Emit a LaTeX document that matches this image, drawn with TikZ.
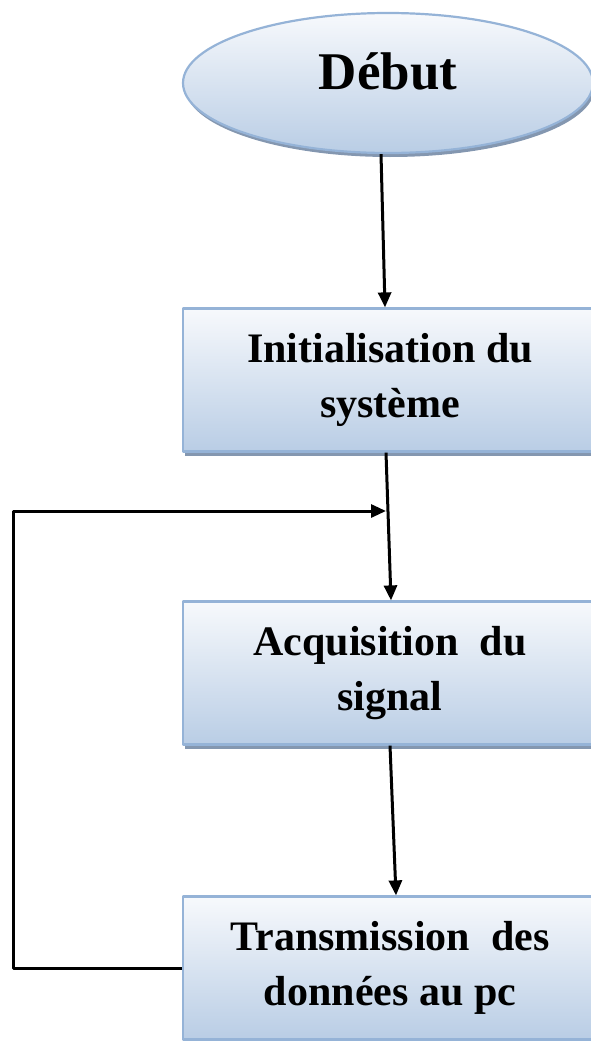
\documentclass[tikz,border=0pt]{standalone}
\usepackage{fontspec}
\setmainfont{Liberation Serif}
\usetikzlibrary{shapes.geometric,arrows.meta,shadows}
\definecolor{bordbleu}{HTML}{95B3D7}
\definecolor{hautbleu}{HTML}{F7F9FC}
\definecolor{basbleu}{HTML}{B9CDE5}
\definecolor{ombrebleu}{HTML}{8497B0}
\begin{document}
\begin{tikzpicture}[x=1pt, y=-1pt, line join=round, >={Triangle[length=15pt,width=13pt]},
	etape/.style={draw=bordbleu, line width=2.2pt, top color=hautbleu, bottom color=basbleu,
		drop shadow={shadow xshift=2pt, shadow yshift=-4pt, fill=ombrebleu, opacity=1},
		minimum width=414pt, minimum height=143pt, inner sep=0pt, align=center,
		font=\bfseries\fontsize{42}{55}\selectfont},
	fleche/.style={->, line width=3pt}]
	\useasboundingbox (0,0) rectangle (590,1041);
	\node[etape, ellipse, minimum width=410pt, minimum height=140pt, text depth=24pt,
		font=\bfseries\fontsize{53}{60}\selectfont] (debut) at (388,83) {Début};
	\node[etape] (init) at (390,380) {Initialisation du\\système};
	\node[etape] (acq) at (390,673) {Acquisition\ \ du\\signal};
	\node[etape] (trans) at (390,968) {Transmission\ \ des\\données au pc};
	\coordinate (retour) at (13,511);
	\coordinate (jonction) at (386,511);
	\draw[fleche] ([xshift=-7pt]debut.south) -- ([xshift=-5pt]init.north);
	\draw[fleche] ([xshift=-4pt]init.south) -- ([xshift=1pt]acq.north);
	\draw[fleche] (acq.south) -- ([xshift=6pt]trans.north);
	\draw[fleche] (trans.west) -| (retour) -- (jonction);
\end{tikzpicture}
\end{document}
